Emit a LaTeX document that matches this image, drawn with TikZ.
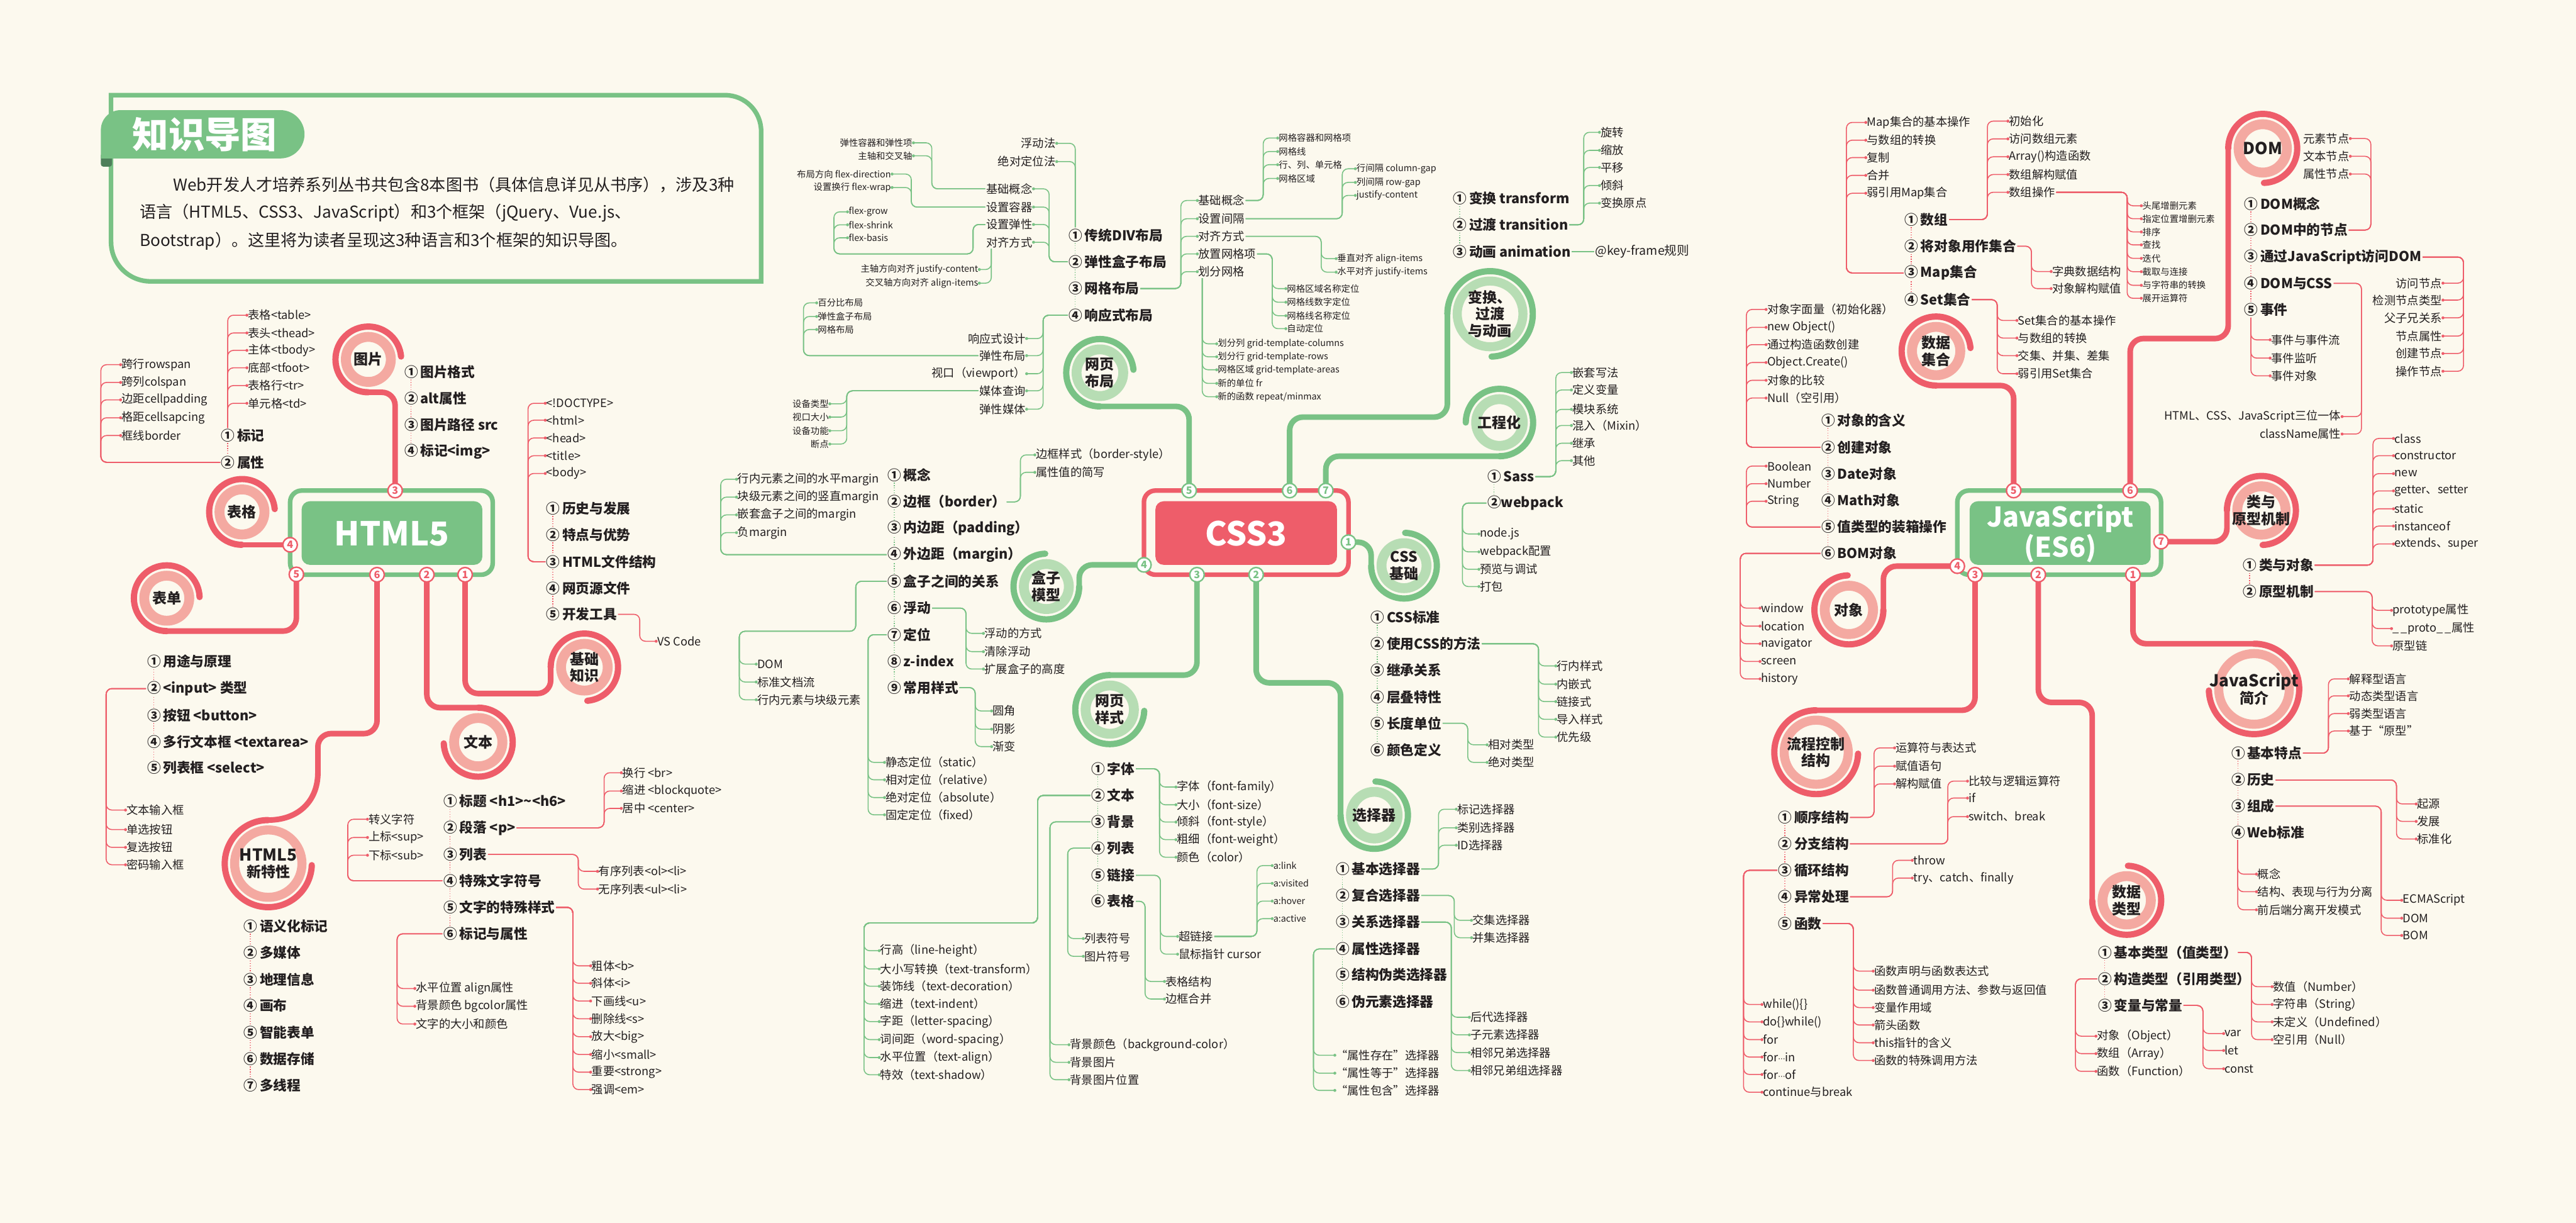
\documentclass[tikz,border=0pt]{standalone}
\usepackage{fontspec}
\setmainfont{Noto Sans CJK SC}
\newfontfamily\dvfont{DejaVu Sans}
\usetikzlibrary{calc}
\definecolor{bgc}{HTML}{FCF9EE}
\definecolor{cGrn}{HTML}{79C285}
\definecolor{cLG}{HTML}{B7DDB4}
\definecolor{cRed}{HTML}{EE5D6A}
\definecolor{cPink}{HTML}{F4A9A1}
\definecolor{ink}{HTML}{231F20}
\definecolor{cDG}{HTML}{4E7F5A}
\tikzset{
  every node/.style={inner sep=0.5pt, text=ink},
  brR/.style={draw=cRed, line width=3.4, line cap=round, rounded corners=8},
  brG/.style={draw=cGrn, line width=3.4, line cap=round, rounded corners=8},
  ringR/.style={draw=cRed, line width=3.8, line cap=round},
  ringG/.style={draw=cGrn, line width=3.8, line cap=round},
  pinkR/.style={draw=cPink, line width=6},
  pinkG/.style={draw=cLG, line width=6},
  lnR/.style={color=cRed, line width=0.6, rounded corners=3.5},
  lnG/.style={color=cGrn, line width=0.6, rounded corners=3.5},
  dotR/.style={draw=cRed, line width=0.5, dash pattern=on 0.5pt off 1pt},
  dotG/.style={draw=cGrn, line width=0.5, dash pattern=on 0.5pt off 1pt},
  it/.style={anchor=west, font=\bfseries\fontsize{8.3}{9}\selectfont},
  lf/.style={anchor=west, font=\fontsize{7}{8}\selectfont},
  lfr/.style={anchor=east, font=\fontsize{7}{8}\selectfont},
  lfs/.style={anchor=west, font=\fontsize{5.5}{6.5}\selectfont},
  lfsr/.style={anchor=east, font=\fontsize{5.5}{6.5}\selectfont},
  cat/.style={align=center, font=\bfseries\fontsize{8.8}{10.2}\selectfont},
  bdgR/.style={circle, draw=cRed, fill=white, line width=0.9, minimum size=8.8, inner sep=0, text=cRed, font=\bfseries\fontsize{6.2}{6.2}\selectfont},
  bdgG/.style={circle, draw=cGrn, fill=white, line width=0.9, minimum size=8.8, inner sep=0, text=cGrn, font=\bfseries\fontsize{6.2}{6.2}\selectfont},
  ctr/.style={text=white, font=\bfseries\fontsize{20}{20}\selectfont},
  para/.style={anchor=west, font=\fontsize{10}{12}\selectfont}
}
\newcommand\lkE[4]{\foreach \q in {#4}{\draw[#1] #2 -| ($(\q.west)+(#3,0)$) -- (\q.west); \fill[#1] (\q.west) circle[radius=0.9];}}
\newcommand\lkW[4]{\foreach \q in {#4}{\draw[#1] #2 -| ($(\q.east)+(#3,0)$) -- (\q.east); \fill[#1] (\q.east) circle[radius=0.9];}}
\newcommand\lkVE[3]{\foreach \q in {#3}{\draw[#1] #2 |- (\q.west); \fill[#1] (\q.west) circle[radius=0.9];}}
\newcommand\lkVW[3]{\foreach \q in {#3}{\draw[#1] #2 |- (\q.east); \fill[#1] (\q.east) circle[radius=0.9];}}
\newcommand\dch[2]{\foreach \a/\b in {#2}{\draw[#1] ($(\a.south west)+(4.6,0)$) -- ($(\b.north west)+(4.6,0)$);}}
\newcommand\mdots{{\dvfont\fontsize{4.5}{6}\selectfont ···}}
\begin{document}
\begin{tikzpicture}[x=1pt,y=-1pt]
\useasboundingbox (0,0) rectangle (1568,744);
\fill[bgc] (0,0) rectangle (1568,744);

% ---------- intro box ----------
\draw[cGrn, line width=2.8] (67.6,57.9) -- (441.3,57.9) arc[start angle=-90,end angle=0,radius=22] -- (463.3,171.2) -- (91.6,171.2) arc[start angle=90,end angle=180,radius=24] -- cycle;
\fill[cDG, rounded corners=1.5] (61.4,93) rectangle (68.2,101.4);
\fill[cGrn] (61.4,96.4) -- (61.4,79) arc[start angle=180,end angle=270,radius=12] -- (170.65,67) arc[start angle=-90,end angle=90,radius=14.7] -- cycle;
\node[text=white, font=\bfseries\fontsize{22}{22}\selectfont] (ttl) at (124.6,82) {知识导图};
\node[para] (intro1) at (104.7,112.5) {Web开发人才培养系列丛书共包含8本图书（具体信息详见从书序），涉及3种};
\node[para] (intro2) at (84.4,129.4) {语言（HTML5、CSS3、JavaScript）和3个框架（jQuery、Vue.js、};
\node[para] (intro3) at (84.4,146.6) {Bootstrap）。这里将为读者呈现这3种语言和3个框架的知识导图。};

% ---------- coordinates ----------
\coordinate (bh1) at (283.1,349.7); \coordinate (bh2) at (259.8,349.7); \coordinate (bh3) at (240.5,298.5);
\coordinate (bh4) at (176.6,331.5); \coordinate (bh5) at (180.4,349.5); \coordinate (bh6) at (229.5,349.7);
\coordinate (bc1) at (820.8,329.9); \coordinate (bc2) at (764.6,349.7); \coordinate (bc3) at (728.6,349.7);
\coordinate (bc4) at (696.3,343.7); \coordinate (bc5) at (723.8,298.5); \coordinate (bc6) at (785,298.5); \coordinate (bc7) at (807,298.5);
\coordinate (bj1) at (1298.3,349.7); \coordinate (bj2) at (1240.7,349.7); \coordinate (bj3) at (1202.2,349.7);
\coordinate (bj4) at (1191.4,344.5); \coordinate (bj5) at (1225.7,298.5); \coordinate (bj6) at (1296.6,298.5); \coordinate (bj7) at (1315.4,329.6);
\coordinate (Qimg) at (224.2,218.7); \coordinate (Qtab) at (147.3,311.5); \coordinate (Qform) at (101.5,364);
\coordinate (Qbase) at (355.7,406); \coordinate (Qtext) at (291.1,451.6); \coordinate (Qnew) at (163.3,525.5);
\coordinate (Qlay) at (669.5,226.8); \coordinate (Qanim) at (907,191); \coordinate (Qeng) at (912.7,257.1);
\coordinate (Qcssb) at (854.6,344.2); \coordinate (Qbox) at (636.9,356.9); \coordinate (Qsty) at (675.5,431.8); \coordinate (Qsel) at (836.5,496);
\coordinate (Qcol) at (1178.5,213.6); \coordinate (Qdom) at (1377.3,90.3); \coordinate (Qcls) at (1376.5,310.6);
\coordinate (Qobj) at (1125.4,371.1); \coordinate (Qflow) at (1105.5,457.7); \coordinate (Qtype) at (1294.5,547.8); \coordinate (Qintro) at (1372,419.2);

% ---------- main branches ----------
\draw[brR] (bh3) |- ($(Qimg)+(0,20)$);
\draw[brR] (bh4) -- ($(Qtab)+(0,20)$);
\draw[brR] (bh5) |- ($(Qform)+(0,20)$);
\draw[brR] (bh1) |- ($(Qbase)+(-20.5,16)$) -- ($(Qbase)+(-20.5,0)$);
\draw[brR] (bh2) |- ($(Qtext)+(0,-21)$);
\draw[brR] (bh6) |- (193.5,446.4) -- (193.5,470);
\draw[brR] (193.5,470) .. controls (193.5,488) and (181,499) .. ($(Qnew)+(0,-26.5)$);
\draw[brG] (bc5) |- ($(Qlay)+(0,20.5)$);
\draw[brG] (bc6) |- ($(Qanim)+(-26,62.8)$) -- ($(Qanim)+(-26,0)$);
\draw[brG] (bc7) |- ($(Qeng)+(0,20.5)$);
\draw[brG] (bc1) -| ($(Qcssb)+(-20,0)$);
\draw[brG] (bc4) -| ($(Qbox)+(20,0)$);
\draw[brG] (bc3) |- ($(Qsty)+(0,-21)$);
\draw[brG] (bc2) |- ($(Qsel)+(-20.5,-80.5)$) -- ($(Qsel)+(-20.5,0)$);
\draw[brR] (bj5) |- ($(Qcol)+(0,21)$);
\draw[brR] (bj6) |- ($(Qdom)+(-21,115.7)$) -- ($(Qdom)+(-21,0)$);
\draw[brR] (bj7) -| ($(Qcls)+(-21,0)$);
\draw[brR] (bj4) -| ($(Qobj)+(21,0)$);
\draw[brR] (bj3) |- ($(Qflow)+(0,-25.5)$);
\draw[brR] (bj2) |- ($(Qtype)+(-21,-120.4)$) -- ($(Qtype)+(-21,0)$);
\draw[brR] (bj1) |- ($(Qintro)+(0,-27.5)$);

% ---------- rings ----------
\draw[ringR] ($(Qimg)+(0,20)$) arc[start angle=90,end angle=355,radius=20];
\draw[ringR] ($(Qtab)+(0,20)$) arc[start angle=90,end angle=355,radius=20];
\draw[ringR] ($(Qform)+(0,20)$) arc[start angle=90,end angle=358,radius=20];
\draw[ringR] ($(Qbase)+(-20.5,0)$) arc[start angle=180,end angle=445,radius=20.5];
\draw[ringR] ($(Qtext)+(0,-21)$) arc[start angle=-90,end angle=178,radius=21];
\draw[ringR] ($(Qnew)+(0,-26.5)$) arc[start angle=-90,end angle=-358,radius=26.5];
\draw[ringG] ($(Qlay)+(0,20.5)$) arc[start angle=90,end angle=355,radius=20.5];
\draw[ringG] ($(Qanim)+(-26,0)$) arc[start angle=180,end angle=448,radius=26];
\draw[ringG] ($(Qeng)+(0,20.5)$) arc[start angle=90,end angle=-180,radius=20.5];
\draw[ringG] ($(Qcssb)+(-20,0)$) arc[start angle=180,end angle=-88,radius=20];
\draw[ringG] ($(Qbox)+(20,0)$) arc[start angle=0,end angle=268,radius=20];
\draw[ringG] ($(Qsty)+(0,-21)$) arc[start angle=-90,end angle=-358,radius=21];
\draw[ringG] ($(Qsel)+(-20.5,0)$) arc[start angle=180,end angle=-88,radius=20.5];
\draw[ringR] ($(Qcol)+(0,21)$) arc[start angle=90,end angle=355,radius=21];
\draw[ringR] ($(Qdom)+(-21,0)$) arc[start angle=180,end angle=448,radius=21];
\draw[ringR] ($(Qcls)+(-21,0)$) arc[start angle=180,end angle=448,radius=21];
\draw[ringR] ($(Qobj)+(21,0)$) arc[start angle=0,end angle=268,radius=21];
\draw[ringR] ($(Qflow)+(0,-25.5)$) arc[start angle=-90,end angle=-358,radius=25.5];
\draw[ringR] ($(Qtype)+(-21,0)$) arc[start angle=180,end angle=-88,radius=21];
\draw[ringR] ($(Qintro)+(0,-27.5)$) arc[start angle=-90,end angle=178,radius=27.5];
\foreach \c in {Qimg,Qtab,Qform} \draw[pinkR] (\c) circle[radius=13.7];
\draw[pinkR] (Qbase) circle[radius=14.2];
\draw[pinkR] (Qtext) circle[radius=14.7];
\draw[pinkR, line width=5.5] (Qnew) circle[radius=20.5];
\draw[pinkG] (Qlay) circle[radius=14.2];
\draw[pinkG, line width=5.5] (Qanim) circle[radius=20];
\draw[pinkG] (Qeng) circle[radius=14.2];
\draw[pinkG] (Qcssb) circle[radius=13.7];
\draw[pinkG] (Qbox) circle[radius=13.7];
\draw[pinkG] (Qsty) circle[radius=14.7];
\draw[pinkG] (Qsel) circle[radius=14.2];
\foreach \c in {Qcol,Qdom,Qcls,Qobj,Qtype} \draw[pinkR] (\c) circle[radius=14.7];
\draw[pinkR, line width=5.5] (Qflow) circle[radius=19.5];
\draw[pinkR, line width=5.5] (Qintro) circle[radius=21.5];

% ---------- central boxes ----------
\draw[cGrn, line width=2.8, rounded corners=7] (176.6,298.5) rectangle (299.9,349.7);
\fill[cGrn, rounded corners=5] (183.6,305) rectangle (293.6,343.7);
\node[ctr] (html) at (238.6,324.6) {HTML5};
\draw[cRed, line width=2.8, rounded corners=7] (696.3,298.5) rectangle (820.8,349.7);
\fill[cRed, rounded corners=5] (703.3,305) rectangle (813.8,343.7);
\node[ctr] (css) at (758.5,324.6) {CSS3};
\draw[cGrn, line width=2.8, rounded corners=7] (1191.4,298.5) rectangle (1315.4,349.7);
\fill[cGrn, rounded corners=5] (1198.9,305) rectangle (1309.1,343.7);
\node[text=white, align=center, font=\bfseries\fontsize{16.5}{16.5}\selectfont] (js) at (1254,324.6) {JavaScript\\(ES6)};

% ---------- badges ----------
\foreach \n in {1,...,6} \node[bdgR] (Bh\n) at (bh\n) {\n};
\foreach \n in {1,...,7} \node[bdgG] (Bc\n) at (bc\n) {\n};
\foreach \n in {1,...,7} \node[bdgR] (Bj\n) at (bj\n) {\n};

% ---------- category labels ----------
\node[cat] (Limg) at (Qimg) {图片};
\node[cat] (Ltab) at (Qtab) {表格};
\node[cat] (Lform) at (Qform) {表单};
\node[cat] (Lbase) at (Qbase) {基础\\知识};
\node[cat] (Ltext) at (Qtext) {文本};
\node[cat] (Lnew) at (Qnew) {{\fontsize{10}{11}\selectfont HTML5}\\新特性};
\node[cat] (Llay) at (Qlay) {网页\\布局};
\node[cat] (Lanim) at (Qanim) {变换、\\过渡\\与动画};
\node[cat] (Leng) at (Qeng) {工程化};
\node[cat] (Lcssb) at (Qcssb) {CSS\\基础};
\node[cat] (Lbox) at (Qbox) {盒子\\模型};
\node[cat] (Lsty) at (Qsty) {网页\\样式};
\node[cat] (Lsel) at (Qsel) {选择器};
\node[cat] (Lcol) at (Qcol) {数据\\集合};
\node[cat, font=\bfseries\fontsize{10}{11}\selectfont] (Ldom) at (Qdom) {DOM};
\node[cat] (Lcls) at (Qcls) {类与\\原型机制};
\node[cat] (Lobj) at (Qobj) {对象};
\node[cat] (Lflow) at (Qflow) {流程控制\\结构};
\node[cat] (Ltype) at (Qtype) {数据\\类型};
\node[cat] (Lintro) at (Qintro) {{\fontsize{10}{11}\selectfont JavaScript}\\简介};

% ================= HTML5 =================
\node[it] (i1) at (245.5,226.3) {①\,图片格式};
\node[it] (i2) at (245.5,242.5) {②\,alt属性};
\node[it] (i3) at (245.5,258.6) {③\,图片路径 src};
\node[it] (i4) at (245.5,274.8) {④\,标记<img>};
\node[it] (t1) at (134,265) {①\,标记};
\node[it] (t2) at (134,281.3) {②\,属性};
\node[lf] (ta) at (150.3,191.8) {表格<table>};
\node[lf] (tb) at (150.3,202.6) {表头<thead>};
\node[lf] (tc) at (150.3,213.2) {主体<tbody>};
\node[lf] (td) at (150.3,223.8) {底部<tfoot>};
\node[lf] (te) at (150.3,234.6) {表格行<tr>};
\node[lf] (tf) at (150.3,245.4) {单元格<td>};
\node[lf] (tg) at (73.4,221.9) {跨行rowspan};
\node[lf] (th) at (73.4,232.7) {跨列colspan};
\node[lf] (ti) at (73.4,243.3) {边距cellpadding};
\node[lf] (tj) at (73.4,254.2) {格距cellsapcing};
\node[lf] (tk) at (73.4,265) {框线border};
\node[it] (k1) at (331.9,309.3) {①\,历史与发展};
\node[it] (k2) at (331.9,325.5) {②\,特点与优势};
\node[it] (k3) at (331.9,341.8) {③\,HTML文件结构};
\node[it] (k4) at (331.9,358) {④\,网页源文件};
\node[it] (k5) at (331.9,373.8) {⑤\,开发工具};
\node[lf] (ka) at (331.9,245.4) {<!DOCTYPE>};
\node[lf] (kb) at (331.9,255.7) {<html>};
\node[lf] (kc) at (331.9,266.5) {<head>};
\node[lf] (kd) at (331.9,277.3) {<title>};
\node[lf] (ke) at (331.9,288.1) {<body>};
\node[lf] (kv) at (399.4,390.2) {VS Code};
\node[it] (f1) at (88.9,402.5) {①\,用途与原理};
\node[it] (f2) at (88.9,419) {②\,<input> 类型};
\node[it] (f3) at (88.9,435.3) {③\,按钮 <button>};
\node[it] (f4) at (88.9,451.2) {④\,多行文本框 <textarea>};
\node[it] (f5) at (88.9,467) {⑤\,列表框 <select>};
\node[lf] (fa) at (76.4,492.9) {文本输入框};
\node[lf] (fb) at (76.4,504.8) {单选按钮};
\node[lf] (fc) at (76.4,515.6) {复选按钮};
\node[lf] (fd) at (76.4,526.2) {密码输入框};
\node[it] (x1) at (269.3,487.6) {①\,标题 <h1>\textasciitilde<h6>};
\node[it] (x2) at (269.3,503.7) {②\,段落 <p>};
\node[it] (x3) at (269.3,519.9) {③\,列表};
\node[it] (x4) at (269.3,535.9) {④\,特殊文字符号};
\node[it] (x5) at (269.3,552.1) {⑤\,文字的特殊样式};
\node[it] (x6) at (269.3,568.2) {⑥\,标记与属性};
\node[lf] (xa) at (378.2,470.2) {换行 <br>};
\node[lf] (xb) at (378.2,481.3) {缩进 <blockquote>};
\node[lf] (xc) at (378.2,491.9) {居中 <center>};
\node[lf] (xd) at (363.7,530.2) {有序列表<ol><li>};
\node[lf] (xe) at (363.7,541) {无序列表<ul><li>};
\node[lf] (xf) at (223.7,498.5) {转义字符};
\node[lf] (xg) at (223.7,509.6) {上标<sup>};
\node[lf] (xh) at (223.7,520.4) {下标<sub>};
\node[lf] (xi) at (359.5,587.7) {粗体<b>};
\node[lf] (xj) at (359.5,598.3) {斜体<i>};
\node[lf] (xk) at (359.5,609.1) {下画线<u>};
\node[lf] (xl) at (359.5,619.9) {删除线<s>};
\node[lf] (xm) at (359.5,630.8) {放大<big>};
\node[lf] (xn) at (359.5,641.6) {缩小<small>};
\node[lf] (xo) at (359.5,652.4) {重要<strong>};
\node[lf] (xp) at (359.5,663) {强调<em>};
\node[lf] (xq) at (252.5,601.5) {水平位置 align属性};
\node[lf] (xr) at (252.5,612.3) {背景颜色 bgcolor属性};
\node[lf] (xs) at (252.5,623.1) {文字的大小和颜色};
\node[it] (n1) at (147.8,563.5) {①\,语义化标记};
\node[it] (n2) at (147.8,579.8) {②\,多媒体};
\node[it] (n3) at (147.8,596) {③\,地理信息};
\node[it] (n4) at (147.8,612) {④\,画布};
\node[it] (n5) at (147.8,628.1) {⑤\,智能表单};
\node[it] (n6) at (147.8,644.3) {⑥\,数据存储};
\node[it] (n7) at (147.8,660.3) {⑦\,多线程};

\lkVE{lnR}{($(t1.north west)+(4.6,0)$)}{ta,tb,tc,td,te,tf}
\lkE{lnR}{(t2.west)}{-12}{tg,th,ti,tj,tk}
\lkE{lnR}{(k3.west)}{-10.5}{ka,kb,kc,kd,ke}
\lkE{lnR}{(k5.east)}{-10}{kv}
\lkE{lnR}{(f2.west)}{-11.8}{fa,fb,fc,fd}
\lkE{lnR}{(x2.east)}{-10.5}{xa,xb,xc}
\lkE{lnR}{(x3.east)}{-11.7}{xd,xe}
\lkE{lnR}{(x4.west)}{-12}{xf,xg,xh}
\lkE{lnR}{(x5.east)}{-10.8}{xi,xj,xk,xl,xm,xn,xo,xp}
\lkE{lnR}{(x6.west)}{-10.8}{xq,xr,xs}
\dch{dotR}{i1/i2,i2/i3,i3/i4,t1/t2,k1/k2,k2/k3,k3/k4,k4/k5,f1/f2,f2/f3,f3/f4,f4/f5,x1/x2,x2/x3,x3/x4,x4/x5,x5/x6,n1/n2,n2/n3,n3/n4,n4/n5,n5/n6,n6/n7}

% ================= CSS3 =================
\node[it] (w1) at (649.9,143.1) {①\,传统DIV布局};
\node[it] (w2) at (649.9,159.3) {②\,弹性盒子布局};
\node[it] (w3) at (649.9,175.6) {③\,网格布局};
\node[it] (w4) at (649.9,191.8) {④\,响应式布局};
\node[lfr] (wa) at (643.2,87.2) {浮动法};
\node[lfr] (wb) at (643.2,98.3) {绝对定位法};
\node[lfr] (fb1) at (629.1,114.9) {基础概念};
\node[lfr] (fb2) at (629.1,126) {设置容器};
\node[lfr] (fb3) at (629.1,136.6) {设置弹性};
\node[lfr] (fb4) at (629.1,147.4) {对齐方式};
\node[lfsr] (fa1) at (556,86.9) {弹性容器和弹性项};
\node[lfsr] (fa2) at (556,94.8) {主轴和交叉轴};
\node[lfsr] (fa3) at (543,105.9) {布局方向 flex-direction};
\node[lfsr] (fa4) at (543,114.1) {设置换行 flex-wrap};
\node[lfs] (fa5) at (515.9,128.9) {flex-grow};
\node[lfs] (fa6) at (515.9,136.8) {flex-shrink};
\node[lfs] (fa7) at (515.9,144.7) {flex-basis};
\node[lfsr] (fa8) at (596.1,164) {主轴方向对齐 justify-content};
\node[lfsr] (fa9) at (596.1,172.3) {交叉轴方向对齐 align-items};
\node[lf] (g1) at (728.8,122) {基础概念};
\node[lf] (g2) at (728.8,133.1) {设置间隔};
\node[lf] (g3) at (728.8,143.8) {对齐方式};
\node[lf] (g4) at (728.8,154.5) {放置网格项};
\node[lf] (g5) at (728.8,165.3) {划分网格};
\node[lfs] (ga) at (777.7,84) {网格容器和网格项};
\node[lfs] (gb) at (777.7,92.2) {网格线};
\node[lfs] (gc) at (777.7,100.2) {行、列、单元格};
\node[lfs] (gd) at (777.7,108.6) {网格区域};
\node[lfs] (ge) at (825,102.7) {行间隔 column-gap};
\node[lfs] (gf) at (825,111) {列间隔 row-gap};
\node[lfs] (gg) at (825,118.9) {justify-content};
\node[lfs] (gh) at (813.3,157.4) {垂直对齐 align-items};
\node[lfs] (gi) at (813.3,165.6) {水平对齐 justify-items};
\node[lfs] (gj) at (782.7,175.6) {网格区域名称定位};
\node[lfs] (gk) at (782.7,183.9) {网格线数字定位};
\node[lfs] (gl) at (782.7,192.1) {网格线名称定位};
\node[lfs] (gm) at (782.7,200) {自动定位};
\node[lfs] (gn) at (740.6,209.2) {划分列 grid-template-columns};
\node[lfs] (go) at (740.6,217.1) {划分行 grid-template-rows};
\node[lfs] (gp) at (740.6,225) {网格区域 grid-template-areas};
\node[lfs] (gq) at (740.6,233.3) {新的单位 fr};
\node[lfs] (gr) at (740.6,241.4) {新的函数 repeat/minmax};
\node[lfr] (r1) at (624.9,206) {响应式设计};
\node[lfr] (r2) at (624.9,216.4) {弹性布局};
\node[lfr] (r3) at (624.9,227.4) {视口（viewport）};
\node[lfr] (r4) at (624.9,237.8) {媒体查询};
\node[lfr] (r5) at (624.9,249) {弹性媒体};
\node[lfs] (ra) at (497.1,184.3) {百分比布局};
\node[lfs] (rb) at (497.1,192.6) {弹性盒子布局};
\node[lfs] (rc) at (497.1,200.5) {网格布局};
\node[lfsr] (rd) at (505.1,245.7) {设备类型};
\node[lfsr] (re) at (505.1,253.8) {视口大小};
\node[lfsr] (rf) at (505.1,262.1) {设备功能};
\node[lfsr] (rg) at (505.1,270.2) {断点};

\node[it] (m1) at (539.7,289) {①\,概念};
\node[it] (m2) at (539.7,305.4) {②\,边框（border）};
\node[it] (m3) at (539.7,321.5) {③\,内边距（padding）};
\node[it] (m4) at (539.7,337.5) {④\,外边距（margin）};
\node[it] (m5) at (539.7,353.7) {⑤\,盒子之间的关系};
\node[it] (m6) at (539.7,370) {⑥\,浮动};
\node[it] (m7) at (539.7,386.2) {⑦\,定位};
\node[it] (m8) at (539.7,402.4) {⑧\,z-index};
\node[it] (m9) at (539.7,418.4) {⑨\,常用样式};
\node[lf] (ma) at (629.9,276.8) {边框样式（border-style）};
\node[lf] (mb) at (629.9,287.4) {属性值的简写};
\node[lf] (mc) at (448.3,291.6) {行内元素之间的水平margin};
\node[lf] (md) at (448.3,302.5) {块级元素之间的竖直margin};
\node[lf] (me) at (448.3,313.3) {嵌套盒子之间的margin};
\node[lf] (mf) at (448.3,324.1) {负margin};
\node[lf] (mg) at (460.3,404.1) {DOM};
\node[lf] (mh) at (460.3,415) {标准文档流};
\node[lf] (mi) at (460.3,425.8) {行内元素与块级元素};
\node[lf] (mj) at (598.6,385.4) {浮动的方式};
\node[lf] (mk) at (598.6,396.5) {清除浮动};
\node[lf] (ml) at (598.6,407.1) {扩展盒子的高度};
\node[lf] (mm) at (538.4,463.9) {静态定位（static）};
\node[lf] (mn) at (538.4,474.5) {相对定位（relative）};
\node[lf] (mo) at (538.4,485.3) {绝对定位（absolute）};
\node[lf] (mp) at (538.4,495.8) {固定定位（fixed）};
\node[lf] (mq) at (603.6,432.6) {圆角};
\node[lf] (mr) at (603.6,443.7) {阴影};
\node[lf] (ms) at (603.6,454.3) {渐变};

\node[it] (s1) at (663.7,467.8) {①\,字体};
\node[it] (s2) at (663.7,484) {②\,文本};
\node[it] (s3) at (663.7,500.1) {③\,背景};
\node[it] (s4) at (663.7,516.1) {④\,列表};
\node[it] (s5) at (663.7,532.6) {⑤\,链接};
\node[it] (s6) at (663.7,548.4) {⑥\,表格};
\node[lf] (sa) at (715.8,478.9) {字体（font-family）};
\node[lf] (sb) at (715.8,489.7) {大小（font-size）};
\node[lf] (sc) at (715.8,500.2) {倾斜（font-style）};
\node[lf] (sd) at (715.8,510.9) {粗细（font-weight）};
\node[lf] (se) at (715.8,521.6) {颜色（color）};
\node[lf] (sf) at (535.2,578.5) {行高（line-height）};
\node[lf] (sg) at (535.2,589.6) {大小写转换（text-transform）};
\node[lf] (sh) at (535.2,600.1) {装饰线（text-decoration）};
\node[lf] (si) at (535.2,610.9) {缩进（text-indent）};
\node[lf] (sj) at (535.2,621.6) {字距（letter-spacing）};
\node[lf] (sk) at (535.2,632.6) {词间距（word-spacing）};
\node[lf] (sl) at (535.2,643.5) {水平位置（text-align）};
\node[lf] (sm) at (535.2,654) {特效（text-shadow）};
\node[lf] (sn) at (650.7,635.7) {背景颜色（background-color）};
\node[lf] (so) at (650.7,646.4) {背景图片};
\node[lf] (sp) at (650.7,657) {背景图片位置};
\node[lf] (sq) at (659.4,571.1) {列表符号};
\node[lf] (sr) at (659.4,581.9) {图片符号};
\node[lf] (ss) at (716.8,569.8) {超链接};
\node[lf] (st) at (716.8,580.6) {鼠标指针 cursor};
\node[lfs] (la) at (774.4,526.7) {a:link};
\node[lfs] (lb) at (774.4,537.5) {a:visited};
\node[lfs] (lc) at (774.4,548.3) {a:hover};
\node[lfs] (ld) at (774.4,559) {a:active};
\node[lf] (su) at (708.8,597.2) {表格结构};
\node[lf] (sv) at (708.8,607.9) {边框合并};

\node[it] (c1) at (833.8,375.6) {①\,CSS标准};
\node[it] (c2) at (833.8,391.7) {②\,使用CSS的方法};
\node[it] (c3) at (833.8,407.9) {③\,继承关系};
\node[it] (c4) at (833.8,424.2) {④\,层叠特性};
\node[it] (c5) at (833.8,440.1) {⑤\,长度单位};
\node[it] (c6) at (833.8,456.2) {⑥\,颜色定义};
\node[lf] (ca) at (947,405.2) {行内样式};
\node[lf] (cb) at (947,416.3) {内嵌式};
\node[lf] (cc) at (947,426.9) {链接式};
\node[lf] (cd) at (947,437.7) {导入样式};
\node[lf] (ce) at (947,448.5) {优先级};
\node[lf] (cf) at (905.2,453.2) {相对类型};
\node[lf] (cg) at (905.2,463.9) {绝对类型};

\node[it] (e1) at (904.7,290) {①\,Sass};
\node[it] (e2) at (904.7,306.1) {②webpack};
\node[lf] (ea) at (956.5,226.7) {嵌套写法};
\node[lf] (eb) at (956.5,237.3) {定义变量};
\node[lf] (ec) at (956.5,249.1) {模块系统};
\node[lf] (ed) at (956.5,258.9) {混入（Mixin）};
\node[lf] (ee) at (956.5,269.7) {继承};
\node[lf] (ef) at (956.5,280.3) {其他};
\node[lf] (eg) at (900.2,324.9) {node.js};
\node[lf] (eh) at (900.2,335.8) {webpack配置};
\node[lf] (ei) at (900.2,346.4) {预览与调试};
\node[lf] (ej) at (900.2,356.9) {打包};

\node[it] (v1) at (883.9,120.8) {①\,变换 transform};
\node[it] (v2) at (883.9,136.8) {②\,过渡 transition};
\node[it] (v3) at (883.9,153.1) {③\,动画 animation};
\node[lf] (va) at (973.6,80.5) {旋转};
\node[lf] (vb) at (973.6,91.5) {缩放};
\node[lf] (vc) at (973.6,101.9) {平移};
\node[lf] (vd) at (973.6,112.9) {倾斜};
\node[lf] (ve) at (973.6,123.6) {变换原点};
\node[lf, font=\fontsize{7.5}{8}\selectfont] (kf) at (970.3,153.1) {@key-frame规则};

\node[it] (sel1) at (812.5,528.8) {①\,基本选择器};
\node[it] (sel2) at (812.5,544.9) {②\,复合选择器};
\node[it] (sel3) at (812.5,561.1) {③\,关系选择器};
\node[it] (sel4) at (812.5,577.4) {④\,属性选择器};
\node[it] (sel5) at (812.5,593.3) {⑤\,结构伪类选择器};
\node[it] (sel6) at (812.5,609.4) {⑥\,伪元素选择器};
\node[lf] (sa1) at (886.4,492.4) {标记选择器};
\node[lf] (sa2) at (886.4,503.7) {类别选择器};
\node[lf] (sa3) at (886.4,514.3) {ID选择器};
\node[lf] (sa4) at (895.7,560) {交集选择器};
\node[lf] (sa5) at (895.7,570.6) {并集选择器};
\node[lf] (sa6) at (894.4,619) {后代选择器};
\node[lf] (sa7) at (894.4,629.7) {子元素选择器};
\node[lf] (sa8) at (894.4,640.5) {相邻兄弟选择器};
\node[lf] (sa9) at (894.4,651.4) {相邻兄弟组选择器};
\node[lf] (sb1) at (812.5,642.1) {“属性存在”选择器};
\node[lf] (sb2) at (812.5,653) {“属性等于”选择器};
\node[lf] (sb3) at (812.5,663.5) {“属性包含”选择器};

\lkVW{lnG}{($(w1.north west)+(4.6,0)$)}{wa,wb}
\lkW{lnG}{(w2.west)}{9.5}{fb1,fb2,fb3,fb4}
\lkW{lnG}{(fb1.west)}{11.2}{fa1,fa2}
\lkW{lnG}{(fb2.west)}{11.7}{fa3,fa4}
\foreach \q in {fa5,fa6,fa7}{\draw[lnG] (fb3.west) -| (592.3,154.5) -| ($(\q.west)+(-8.3,0)$) -- (\q.west); \fill[lnG] (\q.west) circle[radius=0.9];}
\lkVW{lnG}{($(fb4.south west)+(3.7,0)$)}{fa8,fa9}
\lkE{lnG}{(w3.east)}{-10}{g1,g2,g3,g4,g5}
\lkE{lnG}{(g1.east)}{-8.8}{ga,gb,gc,gd}
\lkE{lnG}{(g2.east)}{-8}{ge,gf,gg}
\lkE{lnG}{(g3.east)}{-9.1}{gh,gi}
\lkE{lnG}{(g4.east)}{-8.3}{gj,gk,gl,gm}
\lkVE{lnG}{($(g5.south west)+(3,0)$)}{gn,go,gp,gq,gr}
\lkW{lnG}{(w4.west)}{10}{r1,r2,r3,r4,r5}
\lkE{lnG}{(r2.west)}{-8}{ra,rb,rc}
\lkW{lnG}{(r4.west)}{10.3}{rd,re,rf,rg}
\lkE{lnG}{(m2.east)}{-8.8}{ma,mb}
\lkE{lnG}{(m4.west)}{-9.6}{mc,md,me,mf}
\foreach \q in {mg,mh,mi}{\draw[lnG] (m5.west) -| (520.9,384.1) -| ($(\q.west)+(-10.3,0)$) -- (\q.west); \fill[lnG] (\q.west) circle[radius=0.9];}
\lkE{lnG}{(m6.east)}{-10.6}{mj,mk,ml}
\lkE{lnG}{(m7.west)}{-10}{mm,mn,mo,mp}
\lkE{lnG}{(m9.east)}{-10}{mq,mr,ms}
\lkE{lnG}{(s1.east)}{-10}{sa,sb,sc,sd,se}
\foreach \q in {sf,sg,sh,si,sj,sk,sl,sm}{\draw[lnG] (s2.west) -| (631.6,561.6) -| ($(\q.west)+(-9.3,0)$) -- (\q.west); \fill[lnG] (\q.west) circle[radius=0.9];}
\lkE{lnG}{(s3.west)}{-11.6}{sn,so,sp}
\lkE{lnG}{(s4.west)}{-9.5}{sq,sr}
\lkE{lnG}{(s5.east)}{-10.5}{ss,st}
\lkE{lnG}{(ss.east)}{-9.3}{la,lb,lc,ld}
\lkE{lnG}{(s6.east)}{-11.8}{su,sv}
\lkE{lnG}{(c2.east)}{-10.5}{ca,cb,cc,cd,ce}
\lkE{lnG}{(c5.east)}{-11.8}{cf,cg}
\lkE{lnG}{(e1.east)}{-9.5}{ea,eb,ec,ed,ee,ef}
\lkE{lnG}{(e2.west)}{-10}{eg,eh,ei,ej}
\lkE{lnG}{(v2.east)}{-9.6}{va,vb,vc,vd,ve}
\draw[lnG] (v3.east) -- (kf.west);
\lkE{lnG}{(sel1.east)}{-10.8}{sa1,sa2,sa3}
\lkE{lnG}{(sel2.east)}{-10.5}{sa4,sa5}
\lkE{lnG}{(sel3.east)}{-11}{sa6,sa7,sa8,sa9}
\lkE{lnG}{(sel4.west)}{-13}{sb1,sb2,sb3}
\dch{dotG}{w1/w2,w2/w3,w3/w4,m1/m2,m2/m3,m3/m4,m4/m5,m5/m6,m6/m7,m7/m8,m8/m9,s1/s2,s2/s3,s3/s4,s4/s5,s5/s6,c1/c2,c2/c3,c3/c4,c4/c5,c5/c6,e1/e2,v1/v2,v2/v3,sel1/sel2,sel2/sel3,sel3/sel4,sel4/sel5,sel5/sel6}

% ================= JavaScript =================
\node[it] (d1) at (1365.5,124) {①\,DOM概念};
\node[it] (d2) at (1365.5,140) {②\,DOM中的节点};
\node[it] (d3) at (1365.5,156.4) {③\,通过JavaScript访问DOM};
\node[it] (d4) at (1365.5,172.4) {④\,DOM与CSS};
\node[it] (d5) at (1365.5,188.6) {⑤\,事件};
\node[lfr] (da) at (1430.6,84.3) {元素节点};
\node[lfr] (db) at (1430.6,95.1) {文本节点};
\node[lfr] (dc) at (1430.6,105.9) {属性节点};
\node[lfr] (dd) at (1487,172.3) {访问节点};
\node[lfr] (de) at (1487,182.6) {检测节点类型};
\node[lfr] (df) at (1487,193.4) {父子兄关系};
\node[lfr] (dg) at (1487,204.5) {节点属性};
\node[lfr] (dh) at (1487,215.1) {创建节点};
\node[lfr] (di) at (1487,225.9) {操作节点};
\node[lfr] (dj) at (1425.6,253.5) {HTML、CSS、JavaScript三位一体};
\node[lfr] (dk) at (1425.6,264.1) {className属性};
\node[lf] (dl) at (1381.8,206.8) {事件与事件流};
\node[lf] (dm) at (1381.8,217.9) {事件监听};
\node[lf] (dn) at (1381.8,228.7) {事件对象};

\node[it] (ds1) at (1158.7,133.6) {①\,数组};
\node[it] (ds2) at (1158.7,149.8) {②\,将对象用作集合};
\node[it] (ds3) at (1158.7,166.1) {③\,Map集合};
\node[it] (ds4) at (1158.7,182.3) {④\,Set集合};
\node[lf] (aa1) at (1222.2,73.7) {初始化};
\node[lf] (aa2) at (1222.2,84.5) {访问数组元素};
\node[lf] (aa3) at (1222.2,95.4) {Array()构造函数};
\node[lf] (aa4) at (1222.2,106.2) {数组解构赋值};
\node[lf] (aa5) at (1222.2,117) {数组操作};
\node[lfs] (ab1) at (1303.4,125.2) {头尾增删元素};
\node[lfs] (ab2) at (1303.4,133.1) {指定位置增删元素};
\node[lfs] (ab3) at (1303.4,141.1) {排序};
\node[lfs] (ab4) at (1303.4,149) {查找};
\node[lfs] (ab5) at (1303.4,157.2) {迭代};
\node[lfs] (ab6) at (1303.4,165.3) {截取与连接};
\node[lfs] (ab7) at (1303.4,173.6) {与字符串的转换};
\node[lfs] (ab8) at (1303.4,181.5) {展开运算符};
\node[lf] (ac1) at (1248.5,165.2) {字典数据结构};
\node[lf] (ac2) at (1248.5,175.6) {对象解构赋值};
\node[lf] (ad1) at (1135.7,74.5) {Map集合的基本操作};
\node[lf] (ad2) at (1135.7,85.3) {与数组的转换};
\node[lf] (ad3) at (1135.7,95.9) {复制};
\node[lf] (ad4) at (1135.7,106.7) {合并};
\node[lf] (ad5) at (1135.7,117.6) {弱引用Map集合};
\node[lf] (ae1) at (1227.7,195) {Set集合的基本操作};
\node[lf] (ae2) at (1227.7,205.7) {与数组的转换};
\node[lf] (ae3) at (1227.7,216.4) {交集、并集、差集};
\node[lf] (ae4) at (1227.7,227.4) {弱引用Set集合};

\node[it] (o1) at (1108.1,255.7) {①\,对象的含义};
\node[it] (o2) at (1108.1,272.1) {②\,创建对象};
\node[it] (o3) at (1108.1,288.2) {③\,Date对象};
\node[it] (o4) at (1108.1,304.6) {④\,Math对象};
\node[it] (o5) at (1108.1,320.7) {⑤\,值类型的装箱操作};
\node[it] (o6) at (1108.1,336.7) {⑥\,BOM对象};
\node[lf] (oa) at (1075,188.3) {对象字面量（初始化器）};
\node[lf] (ob) at (1075,199.2) {new Object()};
\node[lf] (oc) at (1075,209.7) {通过构造函数创建};
\node[lf] (od) at (1075,220.6) {Object.Create()};
\node[lf] (oe) at (1075,231.4) {对象的比较};
\node[lf] (of) at (1075,242.2) {Null（空引用）};
\node[lf] (og) at (1075,283.6) {Boolean};
\node[lf] (oh) at (1075,294.3) {Number};
\node[lf] (oi) at (1075,305) {String};
\node[lf] (oj) at (1071.3,370) {window};
\node[lf] (ok) at (1071.3,381) {location};
\node[lf] (ol) at (1071.3,391.7) {navigator};
\node[lf] (om) at (1071.3,402.5) {screen};
\node[lf] (on) at (1071.3,413.1) {history};

\node[it] (cl1) at (1364.7,343.9) {①\,类与对象};
\node[it] (cl2) at (1364.7,360) {②\,原型机制};
\node[lf] (ca1) at (1456.9,266.8) {class};
\node[lf] (ca2) at (1456.9,277.3) {constructor};
\node[lf] (ca3) at (1456.9,288.2) {new};
\node[lf] (ca4) at (1456.9,298.7) {getter、setter};
\node[lf] (ca5) at (1456.9,309.6) {static};
\node[lf] (ca6) at (1456.9,320.1) {instanceof};
\node[lf] (ca7) at (1456.9,331) {extends、super};
\node[lf] (ca8) at (1455.7,371.4) {prototype属性};
\node[lf] (ca9) at (1455.7,382.5) {\_\,\_proto\_\,\_属性};
\node[lf] (ca10) at (1455.7,393) {原型链};

\node[it] (j1) at (1357.5,458.3) {①\,基本特点};
\node[it] (j2) at (1357.5,474.6) {②\,历史};
\node[it] (j3) at (1357.5,490.5) {③\,组成};
\node[it] (j4) at (1357.5,506.4) {④\,Web标准};
\node[lf] (ja) at (1429.4,413.1) {解释型语言};
\node[lf] (jb) at (1429.4,423.4) {动态类型语言};
\node[lf] (jc) at (1429.4,434.2) {弱类型语言};
\node[lf] (jd) at (1429.4,444.8) {基于“原型”};
\node[lf] (je) at (1470.7,489.2) {起源};
\node[lf] (jf) at (1470.7,499.8) {发展};
\node[lf] (jg) at (1470.7,510.5) {标准化};
\node[lf] (jh) at (1461.9,547.8) {ECMAScript};
\node[lf] (ji) at (1461.9,558.7) {DOM};
\node[lf] (jj) at (1461.9,569.2) {BOM};
\node[lf] (jk) at (1373.5,531.9) {概念};
\node[lf] (jl) at (1373.5,542.6) {结构、表现与行为分离};
\node[lf] (jm) at (1373.5,553.6) {前后端分离开发模式};

\node[it] (p1) at (1081.8,497.4) {①\,顺序结构};
\node[it] (p2) at (1081.8,513.5) {②\,分支结构};
\node[it] (p3) at (1081.8,529.6) {③\,循环结构};
\node[it] (p4) at (1081.8,545.7) {④\,异常处理};
\node[it] (p5) at (1081.8,561.9) {⑤\,函数};
\node[lf] (pa) at (1153.2,455.1) {运算符与表达式};
\node[lf] (pb) at (1153.2,466.2) {赋值语句};
\node[lf] (pc) at (1153.2,477) {解构赋值};
\node[lf] (pd) at (1197.6,475.3) {比较与逻辑运算符};
\node[lf] (pe) at (1197.6,485.6) {if};
\node[lf] (pf) at (1197.6,496.9) {switch、break};
\node[lf] (pg) at (1072.5,611.2) {while()\{\}};
\node[lf] (ph) at (1072.5,621.8) {do\{\}while()};
\node[lf] (pi) at (1072.5,632.6) {for};
\node[lf] (pj) at (1072.5,643.2) {for\mdots in};
\node[lf] (pk) at (1072.5,653.8) {for\mdots of};
\node[lf] (pl) at (1072.5,664.6) {continue与break};
\node[lf] (pm) at (1164,523.5) {throw};
\node[lf] (pn) at (1164,534.3) {try、catch、finally};
\node[lf] (po) at (1140.2,590.9) {函数声明与函数表达式};
\node[lf] (pp) at (1140.2,602.5) {函数普通调用方法、参数与返回值};
\node[lf] (pq) at (1140.2,613.1) {变量作用域};
\node[lf] (pr) at (1140.2,623.7) {箭头函数};
\node[lf] (ps) at (1140.2,634.5) {this指针的含义};
\node[lf] (pt) at (1140.2,645.3) {函数的特殊调用方法};

\node[it] (dt1) at (1276.5,579.5) {①\,基本类型（值类型）};
\node[it] (dt2) at (1276.5,595.6) {②\,构造类型（引用类型）};
\node[it] (dt3) at (1276.5,611.8) {③\,变量与常量};
\node[lf] (ya1) at (1383,600.4) {数值（Number）};
\node[lf] (ya2) at (1383,611.2) {字符串（String）};
\node[lf] (ya3) at (1383,621.8) {未定义（Undefined）};
\node[lf] (ya4) at (1383,632.6) {空引用（Null）};
\node[lf] (yb1) at (1275.8,630.5) {对象（Object）};
\node[lf] (yb2) at (1275.8,641.1) {数组（Array）};
\node[lf] (yb3) at (1275.8,651.9) {函数（Function）};
\node[lf] (yc1) at (1353.5,628.9) {var};
\node[lf] (yc2) at (1353.5,639.2) {let};
\node[lf] (yc3) at (1353.5,650.3) {const};

\lkW{lnR}{(d2.east)}{12.5}{da,db,dc}
\lkW{lnR}{(d3.east)}{12.5}{dd,de,df,dg,dh,di}
\lkW{lnR}{(d4.east)}{11.8}{dj,dk}
\lkVE{lnR}{($(d5.south west)+(4.6,0)$)}{dl,dm,dn}
\lkE{lnR}{(ds1.east)}{-12.5}{aa1,aa2,aa3,aa4,aa5}
\lkE{lnR}{(aa5.east)}{-8.6}{ab1,ab2,ab3,ab4,ab5,ab6,ab7,ab8}
\lkE{lnR}{(ds2.east)}{-12}{ac1,ac2}
\lkE{lnR}{(ds3.west)}{-11.8}{ad1,ad2,ad3,ad4,ad5}
\lkE{lnR}{(ds4.east)}{-12}{ae1,ae2,ae3,ae4}
\lkE{lnR}{(o2.west)}{-12}{oa,ob,oc,od,oe,of}
\lkE{lnR}{(o5.west)}{-12}{og,oh,oi}
\lkE{lnR}{(o6.west)}{-12}{oj,ok,ol,om,on}
\lkE{lnR}{(cl1.east)}{-12.5}{ca1,ca2,ca3,ca4,ca5,ca6,ca7}
\lkE{lnR}{(cl2.east)}{-11.8}{ca8,ca9,ca10}
\lkE{lnR}{(j1.east)}{-12.1}{ja,jb,jc,jd}
\lkE{lnR}{(j2.east)}{-12}{je,jf,jg}
\lkE{lnR}{(j3.east)}{-12.5}{jh,ji,jj}
\lkVE{lnR}{($(j4.south west)+(4.6,0)$)}{jk,jl,jm}
\lkE{lnR}{(p1.east)}{-12.5}{pa,pb,pc}
\lkE{lnR}{(p2.east)}{-12}{pd,pe,pf}
\lkE{lnR}{(p3.west)}{-11.2}{pg,ph,pi,pj,pk,pl}
\lkE{lnR}{(p4.east)}{-12}{pm,pn}
\lkE{lnR}{(p5.east)}{-12.1}{po,pp,pq,pr,ps,pt}
\lkE{lnR}{(dt1.east)}{-12.5}{ya1,ya2,ya3,ya4}
\lkE{lnR}{(dt2.west)}{-12.5}{yb1,yb2,yb3}
\lkE{lnR}{(dt3.east)}{-12.6}{yc1,yc2,yc3}
\dch{dotR}{d1/d2,d2/d3,d3/d4,d4/d5,ds1/ds2,ds2/ds3,ds3/ds4,o1/o2,o2/o3,o3/o4,o4/o5,o5/o6,cl1/cl2,j1/j2,j2/j3,j3/j4,p1/p2,p2/p3,p3/p4,p4/p5,dt1/dt2,dt2/dt3}
\end{tikzpicture}
\end{document}
